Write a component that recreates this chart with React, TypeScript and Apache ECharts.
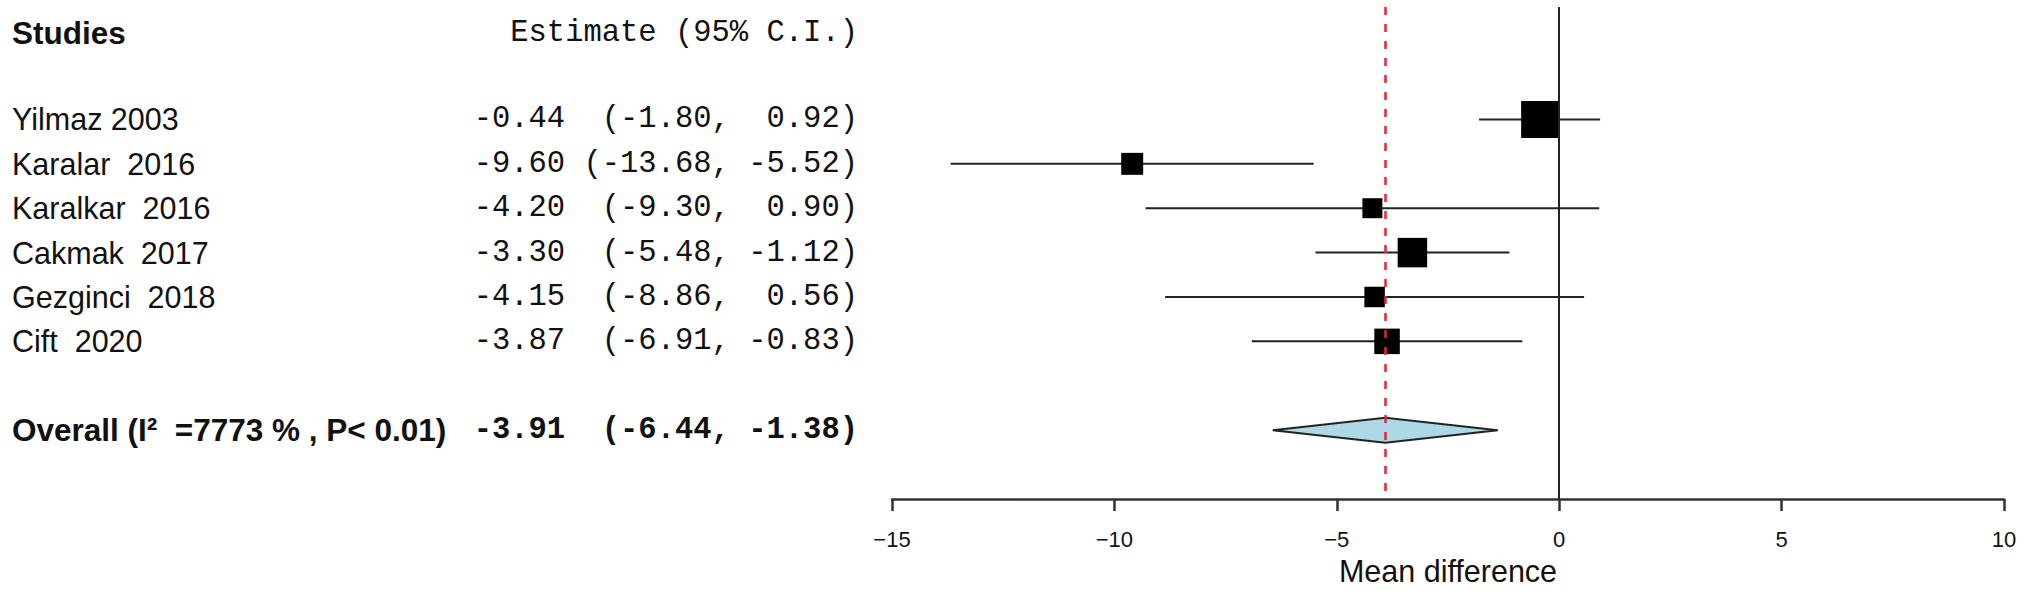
import React, { useEffect, useRef } from "react";
import * as echarts from "echarts";

// ---- data ----
const studies = ["Yilmaz 2003", "Karalar  2016", "Karalkar  2016", "Cakmak  2017", "Gezginci  2018", "Cift  2020"];
const estimates = [-0.44, -9.6, -4.2, -3.3, -4.15, -3.87];
const lowerCI = [-1.8, -13.68, -9.3, -5.48, -8.86, -6.91];
const upperCI = [0.92, -5.52, 0.9, -1.12, 0.56, -0.83];
const weights = [32.6, 11.5, 9.5, 20.7, 10.0, 15.5];
const overallLabel = "Overall (I²  =7773 % , P< 0.01)";
const overallEstimate = -3.91;
const overallLower = -6.44;
const overallUpper = -1.38;
const xMin = -15;
const xMax = 10;
const xInterval = 5;
const xAxisTitle = "Mean difference";
const headerStudies = "Studies";
const headerEstimate = "Estimate (95% C.I.)";

const SANS = '"Liberation Sans", Arial, Helvetica, sans-serif';
const MONO = '"Liberation Mono", "Courier New", monospace';
const TEXT_COLOR = "#111";
const SANS_SIZE = 30.5;
const BOLD_SIZE = 31.5;
const MONO_SIZE = 30.5;

const fmt = (v: number) => v.toFixed(2);
const ciText = (e: number, lo: number, hi: number) =>
  fmt(e).padStart(5) + " " + ("(" + fmt(lo)).padStart(7) + ", " + fmt(hi).padStart(5) + ")";

const overallRow = studies.length + 1;

export default function App() {
  const ref = useRef<HTMLDivElement>(null);
  useEffect(() => {
    if (!ref.current) return;
    const chart = echarts.init(ref.current, null, { renderer: "svg" });

    const studyData = studies.map((_, i) => [estimates[i], i, lowerCI[i], upperCI[i], weights[i]]);
    const textData = studies.map((_, i) => [xMin, i]);

    const option: any = {
      animation: false,
      backgroundColor: "#fff",
      grid: { left: 892, right: 27, top: 7, bottom: 91.7, containLabel: false },
      xAxis: {
        type: "value",
        min: xMin,
        max: xMax,
        interval: xInterval,
        name: xAxisTitle,
        nameLocation: "middle",
        nameGap: 54,
        nameTextStyle: { fontFamily: SANS, fontSize: SANS_SIZE, color: TEXT_COLOR },
        axisLine: { show: true, onZero: false, lineStyle: { color: "#333", width: 2.5 } },
        axisTick: { show: true, length: 12, lineStyle: { color: "#333", width: 2.5 } },
        axisLabel: {
          margin: 29,
          fontFamily: SANS,
          fontSize: 22,
          color: "#111",
          formatter: (v: number) => String(v).replace("-", "\u2212"),
        },
        splitLine: { show: false },
      },
      yAxis: {
        type: "value",
        inverse: true,
        min: -2.534,
        max: 8.554,
        show: false,
        splitLine: { show: false },
      },
      graphic: [
        {
          type: "text",
          x: 12,
          y: 33,
          style: {
            text: headerStudies,
            fontFamily: SANS,
            fontSize: BOLD_SIZE,
            fontWeight: "bold",
            fill: TEXT_COLOR,
            align: "left",
            verticalAlign: "middle",
          },
        },
        {
          type: "text",
          x: 858,
          y: 33,
          style: {
            text: headerEstimate,
            fontFamily: MONO,
            fontSize: MONO_SIZE,
            fill: TEXT_COLOR,
            align: "right",
            verticalAlign: "middle",
          },
        },
      ],
      series: [
        {
          type: "custom",
          name: "studies",
          data: studyData,
          encode: { x: 0, y: 1 },
          clip: false,
          z: 3,
          markLine: {
            silent: true,
            symbol: "none",
            label: { show: false },
            data: [
              { xAxis: 0, lineStyle: { color: "#222", width: 2, type: "solid" } },
              { xAxis: overallEstimate, lineStyle: { color: "#e32630", width: 2.5, type: [8, 9] } },
            ],
          },
          renderItem: (params: any, api: any) => {
            const row = api.value(1);
            const c = api.coord([api.value(0), row]);
            const lo = api.coord([api.value(2), row]);
            const hi = api.coord([api.value(3), row]);
            const side = Math.sqrt(api.value(4)) * 6.48;
            return {
              type: "group",
              children: [
                {
                  type: "line",
                  shape: { x1: lo[0], y1: lo[1], x2: hi[0], y2: hi[1] },
                  style: { stroke: "#222", lineWidth: 2 },
                },
                {
                  type: "rect",
                  shape: { x: c[0] - side / 2, y: c[1] - side / 2, width: side, height: side },
                  style: { fill: "#000" },
                },
              ],
            };
          },
        },
        {
          type: "custom",
          name: "overall",
          data: [[overallEstimate, overallRow, overallLower, overallUpper]],
          encode: { x: 0, y: 1 },
          clip: false,
          z: 3,
          renderItem: (params: any, api: any) => {
            const row = api.value(1);
            const c = api.coord([api.value(0), row]);
            const lo = api.coord([api.value(2), row]);
            const hi = api.coord([api.value(3), row]);
            const h = 12.5;
            return {
              type: "polygon",
              shape: { points: [[lo[0], lo[1]], [c[0], c[1] - h], [hi[0], hi[1]], [c[0], c[1] + h]] },
              style: { fill: "#add8e6", stroke: "#222", lineWidth: 2, lineJoin: "miter" },
            };
          },
        },
        {
          type: "custom",
          name: "studyText",
          data: textData,
          encode: { x: 0, y: 1 },
          clip: false,
          silent: true,
          renderItem: (params: any, api: any) => {
            const i = params.dataIndex;
            const y = api.coord([api.value(0), api.value(1)])[1];
            return {
              type: "group",
              children: [
                {
                  type: "text",
                  x: 12,
                  y,
                  style: {
                    text: studies[i],
                    fontFamily: SANS,
                    fontSize: SANS_SIZE,
                    fill: TEXT_COLOR,
                    align: "left",
                    verticalAlign: "middle",
                  },
                },
                {
                  type: "text",
                  x: 858,
                  y,
                  style: {
                    text: ciText(estimates[i], lowerCI[i], upperCI[i]),
                    fontFamily: MONO,
                    fontSize: MONO_SIZE,
                    fill: TEXT_COLOR,
                    align: "right",
                    verticalAlign: "middle",
                  },
                },
              ],
            };
          },
        },
        {
          type: "custom",
          name: "overallText",
          data: [[xMin, overallRow]],
          encode: { x: 0, y: 1 },
          clip: false,
          silent: true,
          renderItem: (params: any, api: any) => {
            const y = api.coord([api.value(0), api.value(1)])[1];
            return {
              type: "group",
              children: [
                {
                  type: "text",
                  x: 12,
                  y,
                  style: {
                    text: overallLabel,
                    fontFamily: SANS,
                    fontSize: BOLD_SIZE,
                    fontWeight: "bold",
                    fill: TEXT_COLOR,
                    align: "left",
                    verticalAlign: "middle",
                  },
                },
                {
                  type: "text",
                  x: 858,
                  y,
                  style: {
                    text: ciText(overallEstimate, overallLower, overallUpper),
                    fontFamily: MONO,
                    fontSize: MONO_SIZE,
                    fontWeight: "bold",
                    fill: TEXT_COLOR,
                    align: "right",
                    verticalAlign: "middle",
                  },
                },
              ],
            };
          },
        },
      ],
    };

    chart.setOption(option);
    return () => chart.dispose();
  }, []);

  return (
    <div
      ref={ref}
      style={{ position: "absolute", left: 0, top: 0, width: 2031, height: 591, background: "#fff" }}
    />
  );
}
